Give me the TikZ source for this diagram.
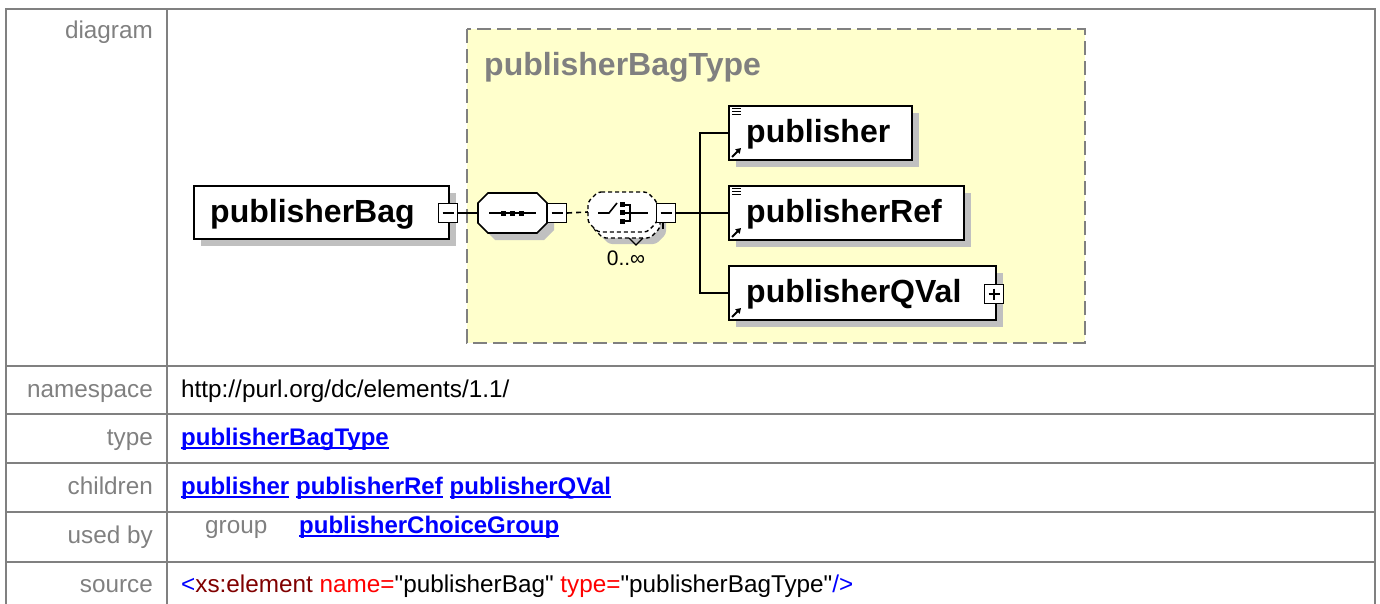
\documentclass[tikz,border=0pt]{standalone}
\usepackage{fontspec}
\setmainfont{Liberation Sans}
\newfontfamily\srcfont[Ligatures=TeXOff]{Liberation Sans}
\usetikzlibrary{calc,shadows,arrows.meta}
\definecolor{tgray}{HTML}{808080}
\definecolor{yel}{HTML}{FFFFCC}
\definecolor{shd}{HTML}{C0C0C0}
\definecolor{lnkblue}{HTML}{0000FF}
\definecolor{dred}{HTML}{800000}
\begin{document}
\begin{tikzpicture}[x=1pt,y=-1pt,
  tline/.style={draw=tgray, line width=2},
  lbl/.style={anchor=base east, inner sep=0, text=tgray, font=\fontsize{24.3}{28}\selectfont},
  val/.style={anchor=base west, inner sep=0, text=black, font=\fontsize{24.3}{28}\selectfont},
  lnk/.style={anchor=base west, inner sep=0, text=lnkblue, font=\fontsize{24}{28}\selectfont\bfseries},
  uline/.style={draw=lnkblue, line width=1.5},
  elembox/.style={draw=black, fill=white, line width=2, inner sep=0, anchor=north west,
     drop shadow={shadow xshift=7pt, shadow yshift=-7pt, fill=shd, opacity=1}},
  eltext/.style={anchor=base west, inner sep=0, font=\fontsize{32}{36}\selectfont\bfseries},
  pmbox/.style={draw=black, fill=white, line width=1.4, inner sep=0, minimum width=19, minimum height=19},
  minus/.style={pmbox, path picture={\draw[line width=1.4] ([xshift=4pt]path picture bounding box.west) -- ([xshift=-4pt]path picture bounding box.east);}},
  plus/.style={pmbox, path picture={\draw[line width=1.4] ([xshift=4pt]path picture bounding box.west) -- ([xshift=-4pt]path picture bounding box.east) ([yshift=-4pt]path picture bounding box.north) -- ([yshift=4pt]path picture bounding box.south);}},
  conn/.style={draw=black, line width=1.6},
  dconn/.style={draw=black, line width=1.6, dash pattern=on 5 off 4},
]
\useasboundingbox (0,0) rectangle (1380,604);
% ---------- table ----------
\draw[tline] (6,604) -- (6,9) -- (1375,9) -- (1375,604);
\draw[tline] (167,9) -- (167,604);
\foreach \yy in {366,414,463,512,562} {\draw[tline] (6,\yy) -- (1375,\yy);}
\node[lbl] (l1) at (153,39) {diagram};
\node[lbl] (l2) at (153,397) {namespace};
\node[lbl] (l3) at (153,445) {type};
\node[lbl] (l4) at (153,494) {children};
\node[lbl] (l5) at (153,543) {used by};
\node[lbl] (l6) at (153,592) {source};
\node[val] (v2) at (181,397) {http://purl.org/dc/elements/1.1/};
\node[lnk] (v3) at (181,445) {publisherBagType};
\draw[uline] ([yshift=-3pt]v3.base west) -- ([yshift=-3pt]v3.base east);
\node[lnk] (c1) at (181,494) {publisher};
\node[lnk] (c2) at ([xshift=6.5pt]c1.base east) {publisherRef};
\node[lnk] (c3) at ([xshift=6.5pt]c2.base east) {publisherQVal};
\foreach \n in {c1,c2,c3} {\draw[uline] ([yshift=-3pt]\n.base west) -- ([yshift=-3pt]\n.base east);}
\node[val, text=tgray] (g1) at (205,533) {group};
\node[lnk] (g2) at (299,533) {publisherChoiceGroup};
\draw[uline] ([yshift=-3pt]g2.base west) -- ([yshift=-3pt]g2.base east);
\node[val, font=\srcfont\fontsize{24.3}{28}\selectfont] (src) at (181,592) {\textcolor{lnkblue}{<}\textcolor{dred}{xs:element} \textcolor{red}{name=}"publisherBag" \textcolor{red}{type=}"publisherBagType"\textcolor{lnkblue}{/>}};
% ---------- complex type region ----------
\draw[draw=tgray, fill=yel, line width=2, dash pattern=on 14 off 6] (467,29) rectangle (1085,343);
\node[eltext, text=tgray] (ctname) at (484,76) {publisherBagType};
% ---------- root element ----------
\node[elembox, minimum width=255, minimum height=53] (bag) at (193,185) {};
\node[eltext] (bagt) at (210,222) {publisherBag};
\node[minus] (bagm) at (448,213) {};
% ---------- sequence ----------
\node[inner sep=0, minimum width=69, minimum height=40] (seq) at (512.5,213) {};
\draw[draw=black, fill=white, line width=1.6, drop shadow={shadow xshift=7pt, shadow yshift=-7pt, fill=shd, opacity=1}]
  (488,193) -- (537,193) -- (547,203) -- (547,223) -- (537,233) -- (488,233) -- (478,223) -- (478,203) -- cycle;
\draw[line width=1.6] (489,213) -- (536,213);
\foreach \xx in {503,512,521} {\fill (\xx-2.5,210.5) rectangle (\xx+2.5,215.5);}
\node[minus] (seqm) at (557,213) {};
\draw[conn] (bagm.east) -- (seq.west);
% ---------- choice ----------
\node[inner sep=0, minimum width=69, minimum height=40] (cho) at (622.5,212) {};
\draw[fill=white, line width=1.4, dash pattern=on 4 off 3, rounded corners=3, drop shadow={shadow xshift=6pt, shadow yshift=-6pt, fill=shd, opacity=1}]
  (603,198) -- (650,198) -- (660,208) -- (660,228) -- (650,238) -- (603,238) -- (593,228) -- (593,208) -- cycle;
\draw[fill=white, line width=1.4, dash pattern=on 4 off 3, rounded corners=3]
  (598,192) -- (647,192) -- (657,202) -- (657,222) -- (647,232) -- (598,232) -- (588,222) -- (588,202) -- cycle;
\draw[line width=1.2] (629,238) -- (636,245) -- (643,238);
\draw[line width=1.6] (598,213) -- (609,213) -- (617,203);
\foreach \yy in {204,212.5,221} {\fill (619.5,\yy-2.5) rectangle (624.5,\yy+2.5);}
\draw[line width=1.6] (624,205) -- (630,205) -- (630,221) -- (624,221) (624,213) -- (648,213);
\node[minus] (chom) at (666,213) {};
\draw[conn] ([xshift=-3pt]chom.south) -- ++(0,6);
\draw[dconn] (seqm.east) -- (cho.west);
\node[font=\fontsize{21}{24}\selectfont, inner sep=0] (occ) at (626,258) {0..∞};
% ---------- children ----------
\node[elembox, minimum width=183, minimum height=54] (pub) at (728,105) {};
\node[elembox, minimum width=235, minimum height=54] (pubref) at (728,185) {};
\node[elembox, minimum width=267, minimum height=54] (qval) at (728,265) {};
\node[eltext] (pubt) at (746,142.5) {publisher};
\node[eltext] (pubreft) at (746,222.5) {publisherRef};
\node[eltext] (qvalt) at (746,302.5) {publisherQVal};
\node[plus] (qvalp) at (994,294) {};
\draw[conn] (chom.east) -- (pubref.west);
\draw[conn] (pub.west) -- ++(-28,0) |- (qval.west);
% icons
\foreach \n in {pub,pubref} {
  \draw[line width=1.3] ([xshift=4pt,yshift=-3.5pt]\n.north west) -- ++(9,0);
  \draw[line width=1.3] ([xshift=4pt,yshift=-6.5pt]\n.north west) -- ++(9,0);
  \draw[line width=1.3] ([xshift=4pt,yshift=-9.5pt]\n.north west) -- ++(9,0);
}
\foreach \n in {pub,pubref,qval} {
  \draw[line width=2, -{Triangle[length=5pt,width=6pt]}] ([xshift=4pt,yshift=4pt]\n.south west) -- ++(9,-9);
}
\end{tikzpicture}
\end{document}
